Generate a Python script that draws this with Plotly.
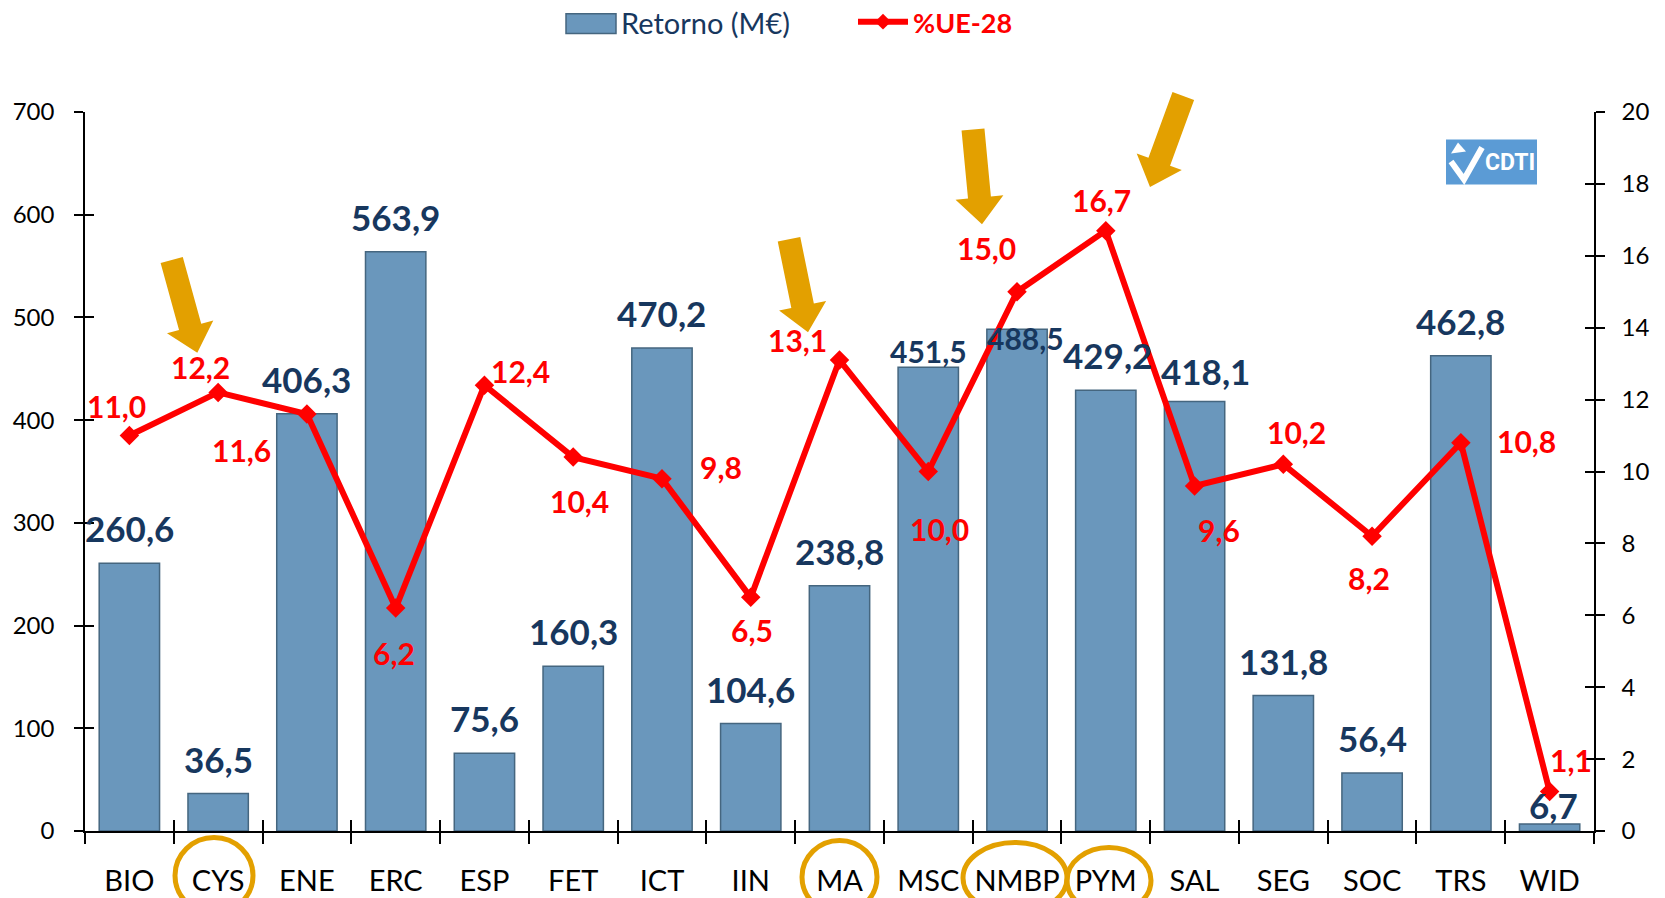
import math
import plotly.graph_objects as go

categories = ["BIO", "CYS", "ENE", "ERC", "ESP", "FET", "ICT", "IIN", "MA", "MSC",
              "NMBP", "PYM", "SAL", "SEG", "SOC", "TRS", "WID"]
retorno = [260.6, 36.5, 406.3, 563.9, 75.6, 160.3, 470.2, 104.6, 238.8, 451.5,
           488.5, 429.2, 418.1, 131.8, 56.4, 462.8, 6.7]
ue28 = [11.0, 12.2, 11.6, 6.2, 12.4, 10.4, 9.8, 6.5, 13.1, 10.0,
        15.0, 16.7, 9.6, 10.2, 8.2, 10.8, 1.1]
left_ticks = list(range(0, 701, 100))
right_ticks = list(range(0, 21, 2))
bar_name = "Retorno (M€)"
line_name = "%UE-28"
logo_text = "CDTI"

W, H = 1665, 898
L, R, T, B = 85, 1594, 111.5, 831.5

def px(xp):
    return (xp - L) / (R - L)

def py(yp):
    return (B - yp) / (B - T)

def fmt(v):
    return f"{v:.1f}".replace(".", ",")

BLUE_TXT = "#17375E"
RED = "#FF0000"
ORANGE = "#E3A000"
FONT = "Lato, Open Sans, sans-serif"

fig = go.Figure()
fig.add_trace(go.Bar(
    x=categories, y=retorno, name=bar_name,
    marker=dict(color="#6A97BC", line=dict(color="#45667F", width=1.5)),
    width=0.68, yaxis="y", showlegend=False))
fig.add_trace(go.Scatter(
    x=categories, y=ue28, name=line_name,
    mode="lines+markers", line=dict(color=RED, width=6),
    marker=dict(symbol="diamond", size=15, color=RED), yaxis="y2", showlegend=False))
# dummy traces for crossing ticks
fig.add_trace(go.Scatter(x=categories, y=[None] * len(categories), xaxis="x2", yaxis="y3",
                         showlegend=False, hoverinfo="skip"))
fig.add_trace(go.Scatter(x=categories, y=[None] * len(categories), xaxis="x2", yaxis="y4",
                         showlegend=False, hoverinfo="skip"))

annotations = []
# bar labels
bar_size = [35] * len(categories)
bar_dy = [35] * len(categories)
bar_dx = [0] * len(categories)
bar_size[9] = 30; bar_dy[9] = 16
bar_size[10] = 30; bar_dy[10] = -9; bar_dx[10] = 8
bar_dy[16] = 19; bar_dx[16] = 4
bar_dx[12] = 11; bar_dy[12] = 31
bar_dx[11] = 2
for i, (c, v) in enumerate(zip(categories, retorno)):
    annotations.append(dict(x=c, y=v, xref="x", yref="y", text=f"<b>{fmt(v)}</b>",
                            showarrow=False, yanchor="middle", xanchor="center",
                            xshift=bar_dx[i], yshift=bar_dy[i],
                            font=dict(size=bar_size[i], color=BLUE_TXT, family=FONT)))
# red labels offsets (dx, dy in px, dy downward)
red_off = [(-13, -30), (-18, -25), (-65, 36), (-2, 45), (36, -14), (6, 44), (59, -12),
           (1, 33), (-42, -20), (11, 57), (-31, -44), (-4, -31), (24, 44), (13, -32),
           (-3, 42), (66, -2), (21, -31)]
for (c, v), (dx, dy) in zip(zip(categories, ue28), red_off):
    annotations.append(dict(x=c, y=v, xref="x", yref="y2", text=f"<b>{fmt(v)}</b>",
                            showarrow=False, yanchor="middle", xanchor="center",
                            xshift=dx, yshift=-dy,
                            font=dict(size=30, color=RED, family=FONT)))

shapes = []

def poly(pts, fill):
    path = "M " + " L ".join(f"{px(a):.5f},{py(b):.5f}" for a, b in pts) + " Z"
    return dict(type="path", xref="paper", yref="paper", path=path,
                fillcolor=fill, line=dict(width=0), layer="above")

# orange block arrows (tail centre -> tip)
def block_arrow(tail, tip, shaft=23, head_w=48, head_l=27):
    (x0, y0), (x1, y1) = tail, tip
    dx, dy = x1 - x0, y1 - y0
    n = math.hypot(dx, dy)
    ux, uy = dx / n, dy / n
    nx, ny = -uy, ux
    bx, by = x1 - ux * head_l, y1 - uy * head_l
    pts = [(x0 + nx * shaft / 2, y0 + ny * shaft / 2),
           (bx + nx * shaft / 2, by + ny * shaft / 2),
           (bx + nx * head_w / 2, by + ny * head_w / 2),
           (x1, y1),
           (bx - nx * head_w / 2, by - ny * head_w / 2),
           (bx - nx * shaft / 2, by - ny * shaft / 2),
           (x0 - nx * shaft / 2, y0 - ny * shaft / 2)]
    return poly(pts, ORANGE)

arrows = [((171.7, 259.7), (197.3, 352.7)), ((789, 239), (808, 332)),
          ((973, 129), (982, 224)), ((1183.3, 95.5), (1150, 186.7))]
for tail, tip in arrows:
    shapes.append(block_arrow(tail, tip))

# circles around highlighted categories
circles = [(175, 253, 838), (802, 877, 841), (963, 1067, 843), (1067, 1151, 848)]
for x0, x1, y0 in circles:
    shapes.append(dict(type="circle", xref="paper", yref="paper", x0=px(x0), x1=px(x1),
                       y0=py(914), y1=py(y0), line=dict(color=ORANGE, width=5)))

# CDTI logo
shapes.append(dict(type="rect", xref="paper", yref="paper", x0=px(1446), x1=px(1537),
                   y0=py(184), y1=py(139), fillcolor="#5B9BD5", line=dict(width=0),
                   layer="above"))
shapes.append(dict(type="path", xref="paper", yref="paper",
                   path=(f"M {px(1451):.5f},{py(161):.5f} L {px(1464):.5f},{py(179):.5f} "
                         f"L {px(1482):.5f},{py(147):.5f}"),
                   line=dict(color="white", width=6), layer="above"))
shapes.append(poly([(1458, 142), (1466, 151), (1451, 153)], "white"))
annotations.append(dict(x=px(1510), y=py(162), xref="paper", yref="paper",
                        text=f"<b>{logo_text}</b>", showarrow=False,
                        xanchor="center", yanchor="middle",
                        font=dict(size=23, color="white",
                                  family="Liberation Sans Narrow, Roboto, sans-serif")))

# custom legend
shapes.append(dict(type="rect", xref="paper", yref="paper", x0=px(566), x1=px(616),
                   y0=py(33), y1=py(13), fillcolor="#6A97BC",
                   line=dict(color="#45667F", width=1.5)))
annotations.append(dict(x=px(619), y=py(22), xref="paper", yref="paper", text=bar_name,
                        showarrow=False, xanchor="left", yanchor="middle",
                        font=dict(size=29, color=BLUE_TXT, family=FONT)))
shapes.append(dict(type="line", xref="paper", yref="paper", x0=px(858), x1=px(908),
                   y0=py(21), y1=py(21), line=dict(color=RED, width=6)))
shapes.append(poly([(883, 13), (891, 21), (883, 29), (875, 21)], RED))
annotations.append(dict(x=px(911), y=py(22), xref="paper", yref="paper",
                        text=f"<b>{line_name}</b>", showarrow=False, xanchor="left",
                        yanchor="middle", font=dict(size=27, color=RED, family=FONT)))

axis_common = dict(showline=True, linecolor="black", linewidth=1.5, showgrid=False,
                   zeroline=False, tickcolor="black", tickwidth=1.5)

fig.update_layout(
    width=W, height=H, paper_bgcolor="white", plot_bgcolor="white",
    margin=dict(l=L, r=W - R, t=T, b=H - B, autoexpand=False),
    font=dict(family=FONT, color="black"),
    showlegend=False,
    xaxis=dict(type="category", categoryorder="array", categoryarray=categories,
               range=[-0.5, len(categories) - 0.5], tickson="boundaries", ticks="outside",
               ticklen=11, tickangle=0, tickfont=dict(size=29), ticklabelstandoff=23,
               **axis_common),
    xaxis2=dict(type="category", categoryorder="array", categoryarray=categories,
                range=[-0.5, len(categories) - 0.5], tickson="boundaries", ticks="inside",
                ticklen=11, showticklabels=False, overlaying="x", anchor="y3",
                **axis_common),
    yaxis=dict(range=[0, 700], tickvals=left_ticks, ticks="outside", ticklen=9,
               tickfont=dict(size=24), ticklabelstandoff=15, **axis_common),
    yaxis2=dict(range=[0, 20], tickvals=right_ticks, ticks="outside", ticklen=9,
                overlaying="y", side="right", tickfont=dict(size=24),
                ticklabelstandoff=12, **axis_common),
    yaxis3=dict(range=[0, 700], tickvals=left_ticks, ticks="inside", ticklen=9,
                showticklabels=False, overlaying="y", side="left", anchor="x2", **axis_common),
    yaxis4=dict(range=[0, 20], tickvals=right_ticks, ticks="inside", ticklen=9,
                showticklabels=False, overlaying="y", side="right", anchor="x2", **axis_common),
    annotations=annotations, shapes=shapes,
)

fig.write_html("out.html", post_script="document.body.style.margin='0';",
               config={"displayModeBar": False})
